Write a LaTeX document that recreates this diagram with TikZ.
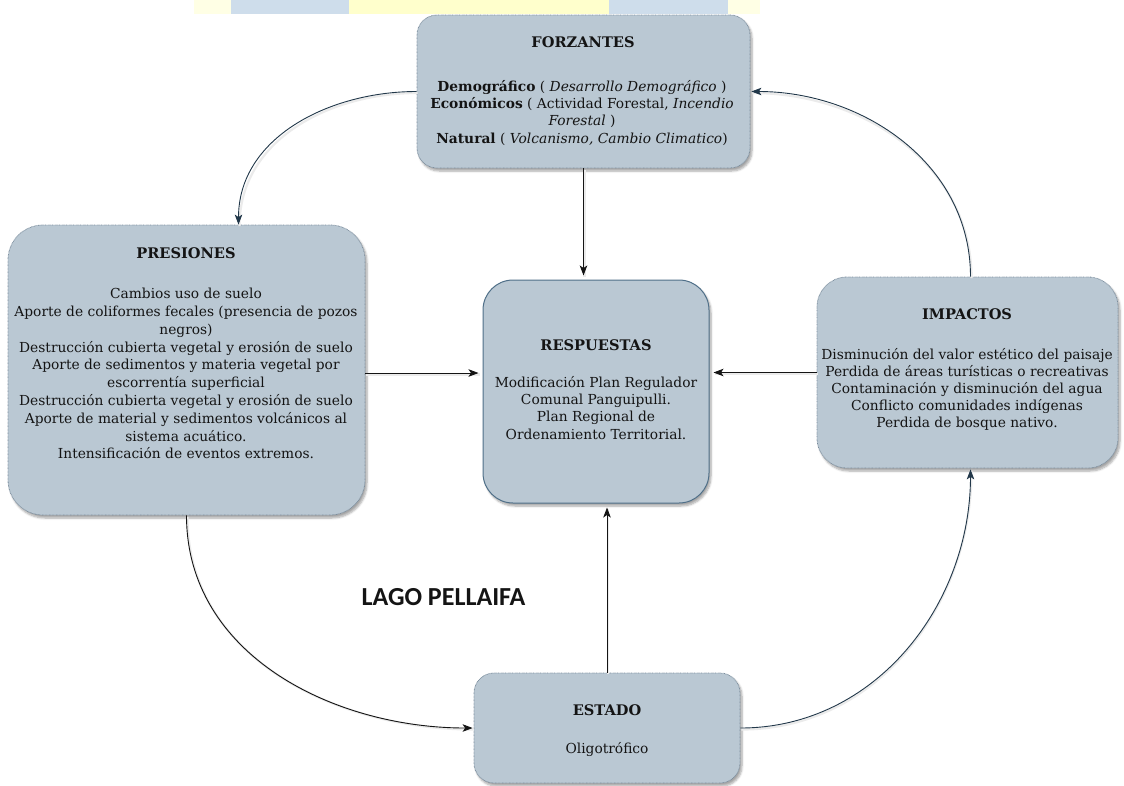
\documentclass[tikz,border=0pt]{standalone}
\usepackage{fontspec}
\setmainfont{DejaVu Serif}
\newfontfamily\lagofont{Carlito}
\usetikzlibrary{arrows.meta,shadows.blur}

\definecolor{boxfill}{HTML}{BAC8D3}
\definecolor{boxedge}{HTML}{7A8C9C}
\definecolor{respedge}{HTML}{4F6F88}
\definecolor{navy}{HTML}{22384A}
\definecolor{ink}{HTML}{141414}
\definecolor{hdrblue}{HTML}{CEDDEB}
\definecolor{hdryellow}{HTML}{FFFFCC}

\tikzset{
  panel/.style={draw=boxedge, fill=boxfill, line width=0.8pt,
    dash pattern=on 0.7pt off 0.7pt, rounded corners=#1, inner sep=0pt,
    blur shadow={shadow xshift=2pt, shadow yshift=-3pt, shadow blur steps=6, shadow opacity=35}},
  solidpanel/.style={panel=#1, draw=respedge, solid, line width=1pt},
  title/.style={anchor=base, inner sep=0pt, text=ink, font=\fontsize{14.6}{17}\selectfont\bfseries},
  body/.style={anchor=north, inner sep=0pt, align=center, text=ink, font=\fontsize{13.8}{#1}\selectfont},
  conn/.style={draw=ink, line width=0.9pt, -{Stealth[length=10pt,width=7.5pt,inset=2.5pt]},
    preaction={draw=black!8, line width=2.2pt, -, transform canvas={xshift=1pt,yshift=-1.5pt}}},
  navyconn/.style={conn, draw=navy},
  lago/.style={anchor=base, inner sep=0pt, font=\lagofont\fontsize{26}{30}\selectfont\bfseries}
}

\begin{document}
\begin{tikzpicture}[x=1pt,y=1pt]
\useasboundingbox (0,0) rectangle (1124,-785);

% header strip along the top edge
\fill[hdryellow!50] (194,0) rectangle (231,-14);
\fill[hdrblue] (231,0) rectangle (349,-14);
\fill[hdryellow] (349,0) rectangle (609,-14);
\fill[hdrblue] (609,0) rectangle (728,-14);
\fill[hdryellow!50] (728,0) rectangle (760,-14);

% boxes
\node[panel=20pt, minimum width=333pt, minimum height=153pt] (forz) at (583.5,-91.5) {};
\node[panel=35pt, minimum width=357pt, minimum height=290pt] (pres) at (186.5,-370) {};
\node[solidpanel=30pt, minimum width=226pt, minimum height=223pt] (resp) at (596,-391.5) {};
\node[panel=30pt, minimum width=301pt, minimum height=191pt] (imp) at (967.5,-372.5) {};
\node[panel=20pt, minimum width=266pt, minimum height=110pt] (est) at (607,-728) {};

% box texts
\node[title] (forzT) at (583,-47) {FORZANTES};
\node[body=17.3] (forzB) at (582,-80) {\textbf{Demográfico} ( \textit{Desarrollo Demográfico} )\\
  \textbf{Económicos} ( Actividad Forestal, \textit{Incendio}\\
  \textit{Forestal} )\\
  \textbf{Natural} ( \textit{Volcanismo, Cambio Climatico})};

\node[title] (presT) at (186,-258) {PRESIONES};
\node[body=17.8] (presB) at (186,-288) {Cambios uso de suelo\\
  Aporte de coliformes fecales (presencia de pozos\\
  negros)\\
  Destrucción cubierta vegetal y erosión de suelo\\
  Aporte de sedimentos y materia vegetal por\\
  escorrentía superficial\\
  Destrucción cubierta vegetal y erosión de suelo\\
  Aporte de material y sedimentos volcánicos al\\
  sistema acuático.\\
  Intensificación de eventos extremos.};

\node[title] (respT) at (596,-350) {RESPUESTAS};
\node[body=17.3] (respB) at (596,-376) {Modificación Plan Regulador\\
  Comunal Panguipulli.\\
  Plan Regional de\\
  Ordenamiento Territorial.};

\node[title] (impT) at (967,-319) {IMPACTOS};
\node[body=17] (impB) at (967,-348) {Disminución del valor estético del paisaje\\
  Perdida de áreas turísticas o recreativas\\
  Contaminación y disminución del agua\\
  Conflicto comunidades indígenas\\
  Perdida de bosque nativo.};

\node[title] (estT) at (607,-715) {ESTADO};
\node[body=17, anchor=base] (estB) at (607,-753) {Oligotrófico};

% lake name
\node[lago, text=ink] (lago) at (443.5,-605) {LAGO PELLAIFA};

% connectors
\draw[navyconn] (forz.west) to[out=180,in=90] ([xshift=52pt]pres.north);
\draw[conn, shorten >=4pt] (forz.south) -- (forz.south |- resp.north);
\draw[conn, shorten >=4pt] (pres.east |- 0,-373) -- (resp.west |- 0,-373);
\draw[conn, shorten >=4pt] (imp.west) -- (imp.west -| resp.east);
\draw[conn, shorten >=4pt] (est.north) -- (est.north |- resp.south);
\draw[conn, shorten >=1pt] (pres.south) to[out=-90,in=180] (est.west);
\draw[navyconn, shorten >=1pt] (est.east) to[out=0,in=-90] ([xshift=3pt]imp.south);
\draw[navyconn, shorten >=1pt] ([xshift=3pt]imp.north) to[out=90,in=0] (forz.east);
\end{tikzpicture}
\end{document}
